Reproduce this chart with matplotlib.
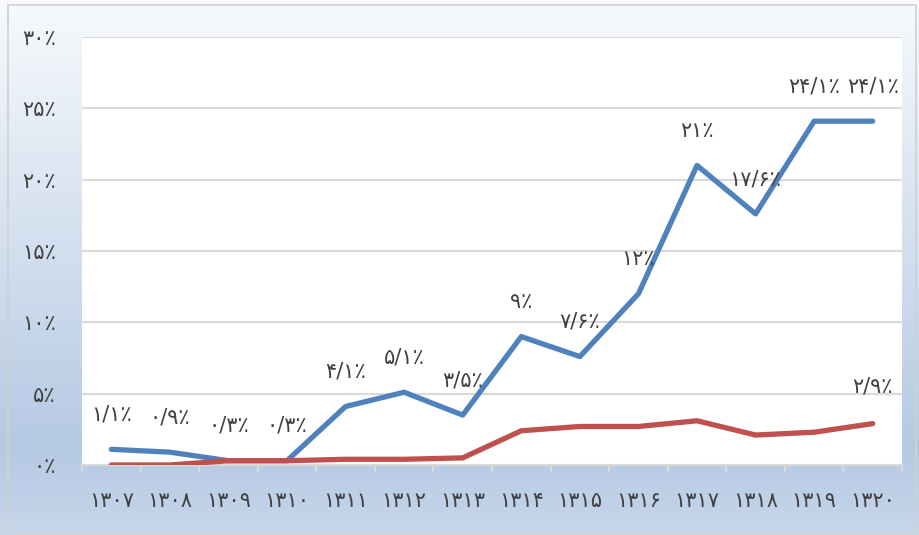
import numpy as np
from matplotlib import pyplot as plt

# data
years = ['۱۳۰۷', '۱۳۰۸', '۱۳۰۹', '۱۳۱۰', '۱۳۱۱', '۱۳۱۲', '۱۳۱۳',
         '۱۳۱۴', '۱۳۱۵', '۱۳۱۶', '۱۳۱۷', '۱۳۱۸', '۱۳۱۹', '۱۳۲۰']
blueValues = [1.1, 0.9, 0.3, 0.3, 4.1, 5.1, 3.5, 9, 7.6, 12, 21, 17.6, 24.1, 24.1]
redValues = [0.0, 0.0, 0.3, 0.3, 0.4, 0.4, 0.5, 2.4, 2.7, 2.7, 3.1, 2.1, 2.3, 2.9]
yTicks = [0, 5, 10, 15, 20, 25, 30]

FA_DIGITS = str.maketrans('0123456789', '۰۱۲۳۴۵۶۷۸۹')


def toPersian(value):
    # 1.1 -> ۱/۱٪
    return ('%g' % value).replace('.', '/').translate(FA_DIGITS) + '٪'


plt.rcParams['font.family'] = ['DejaVu Sans']
textColor = '#404040'
fontSize = 15

fig = plt.figure(figsize=(9.19, 5.35), dpi=100)

# gradient background of the chart area
bg = fig.add_axes([0, 0, 1, 1], zorder=0)
rows = np.linspace(0, 1, 256)
top = np.array([0.97, 0.98, 0.99])
mid = np.array([0.71, 0.79, 0.89])
bottom = np.array([0.78, 0.84, 0.92])
grad = np.empty((256, 1, 3))
for i, t in enumerate(rows):
    if t < 0.84:
        grad[i, 0] = top + (mid - top) * (t / 0.84)
    else:
        grad[i, 0] = mid + (bottom - mid) * ((t - 0.84) / 0.16)
bg.imshow(grad, aspect='auto', extent=[0, 1, 0, 1], origin='upper')
bg.add_patch(plt.Rectangle((0.009, 0.004), 0.988, 0.987, fill=False,
                           edgecolor='#d0d0d0', linewidth=1.2))
bg.set_xlim(0, 1)
bg.set_ylim(0, 1)
bg.axis('off')

ax = fig.add_axes([82 / 919, 70 / 535, 820 / 919, 428 / 535], zorder=1)
ax.set_facecolor('white')

x = np.arange(len(years))
ax.plot(x, blueValues, color='#4f81bd', linewidth=3.8, solid_capstyle='round', zorder=3)
ax.plot(x, redValues, color='#c0504d', linewidth=3.8, solid_capstyle='round', zorder=3)

for i in range(len(years)):
    ax.annotate(toPersian(blueValues[i]), (x[i], blueValues[i]), xytext=(0, 25),
                textcoords='offset points', ha='center', va='center',
                fontsize=fontSize, color=textColor, zorder=4)
ax.annotate(toPersian(redValues[-1]), (x[-1], redValues[-1]), xytext=(0, 27),
            textcoords='offset points', ha='center', va='center',
            fontsize=fontSize, color=textColor, zorder=4)

ax.set_xlim(-0.5, len(years) - 0.5)
ax.set_ylim(0, 30)

ax.set_yticks(yTicks)
ax.set_yticklabels([toPersian(v) for v in yTicks], fontsize=fontSize, color=textColor)
ax.tick_params(axis='y', length=0, pad=19)
ax.grid(axis='y', color='#d9d9d9', linewidth=1.5)
ax.set_axisbelow(True)

ax.set_xticks(x)
ax.set_xticklabels(years, fontsize=fontSize, color=textColor)
ax.set_xticks(np.arange(-0.5, len(years)), minor=True)
ax.tick_params(axis='x', which='major', length=0, pad=19)
ax.tick_params(axis='x', which='minor', length=6, width=1.5, color='#d9d9d9')

for side in ['top', 'left', 'right']:
    ax.spines[side].set_visible(False)
ax.spines['bottom'].set_color('#d9d9d9')
ax.spines['bottom'].set_linewidth(1.5)

plt.savefig('out.png', dpi=100)
